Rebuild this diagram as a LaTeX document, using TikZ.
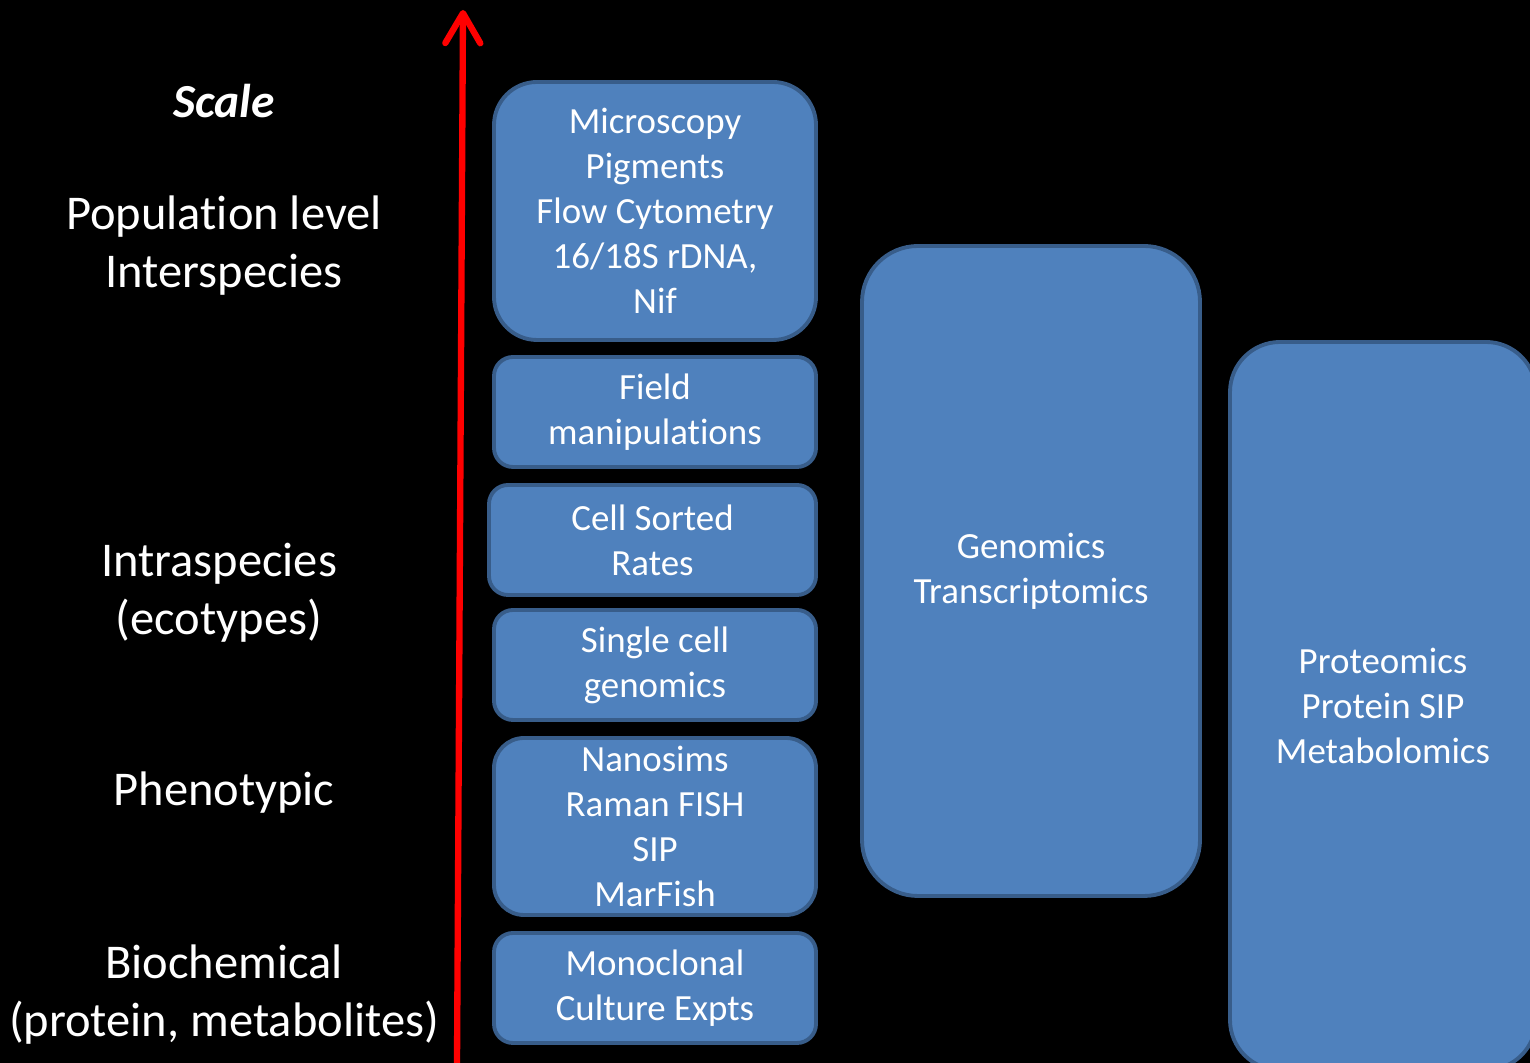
\documentclass[tikz,border=0pt]{standalone}
\usepackage{fontspec}
\setmainfont{Carlito}[RawFeature={-liga,-calt,-clig}]
\usepackage{xcolor}
\definecolor{boxblue}{RGB}{79,129,189}
\definecolor{boxedge}{RGB}{56,93,138}
\usetikzlibrary{arrows.meta,positioning}
\tikzset{
  method/.style={draw=boxedge,line width=1.1pt,fill=boxblue,text=white,
        align=center,inner sep=0pt,font=\fontsize{10.5}{12.8}\selectfont},
  scalelabel/.style={align=center,text=white,inner sep=0pt,
        font=\fontsize{13.8}{16.5}\selectfont}
}
\begin{document}
\begin{tikzpicture}
  \fill[black] (0,0) rectangle (15.30,10.63);
  \useasboundingbox (0,0) rectangle (15.30,10.63);
  %% Scale axis
  \coordinate (axbot) at (4.57,0);
  \coordinate (axtop) at (4.63,10.53);
  \draw[red,line width=1.8pt,
        -{Straight Barb[length=3mm,width=3.5mm,round]}] (axbot) -- (axtop);
  %% Scale labels
  \node[text=white,font=\fontsize{13.5}{16}\selectfont\bfseries\itshape]
        (scale) at (2.24,9.62) {Scale};
  \node[scalelabel] (pop) at (2.24,8.17) {Population level\\Interspecies};
  \node[scalelabel] (intra) at (2.19,4.70) {Intraspecies\\(ecotypes)};
  \node[scalelabel] (pheno) at (2.24,2.70) {Phenotypic};
  \node[scalelabel] (biochem) at (2.24,0.685)
        {Biochemical\\(protein, metabolites)};
  %% Method column
  \node[method,rounded corners=0.43cm,minimum width=3.22cm,minimum height=2.58cm]
        (micro) at (6.55,8.52)
        {Microscopy\\Pigments\\Flow Cytometry\\16/18S rDNA,\\Nif};
  \node[method,rounded corners=0.19cm,minimum width=3.22cm,minimum height=1.10cm]
        (field) at (6.55,6.51) {Field\\manipulations};
  \node[method,rounded corners=0.19cm,minimum width=3.27cm,minimum height=1.10cm]
        (sorted) at (6.525,5.23) {Cell Sorted\\Rates};
  \node[method,rounded corners=0.19cm,minimum width=3.22cm,minimum height=1.10cm]
        (single) at (6.55,3.98) {Single cell\\genomics};
  \node[method,rounded corners=0.30cm,minimum width=3.22cm,minimum height=1.77cm]
        (nano) at (6.55,2.365) {Nanosims\\Raman FISH\\SIP\\MarFish};
  \node[method,rounded corners=0.19cm,minimum width=3.22cm,minimum height=1.10cm]
        (mono) at (6.55,0.75) {Monoclonal\\Culture Expts};
  %% Omics columns
  \node[method,rounded corners=0.56cm,minimum width=3.38cm,minimum height=6.50cm]
        (genomics) at (10.31,4.92) {Genomics\\Transcriptomics};
  \node[method,rounded corners=0.50cm,minimum width=3.06cm,minimum height=7.28cm]
        (proteomics) at (13.83,3.57) {Proteomics\\Protein SIP\\Metabolomics};
\end{tikzpicture}
\end{document}
